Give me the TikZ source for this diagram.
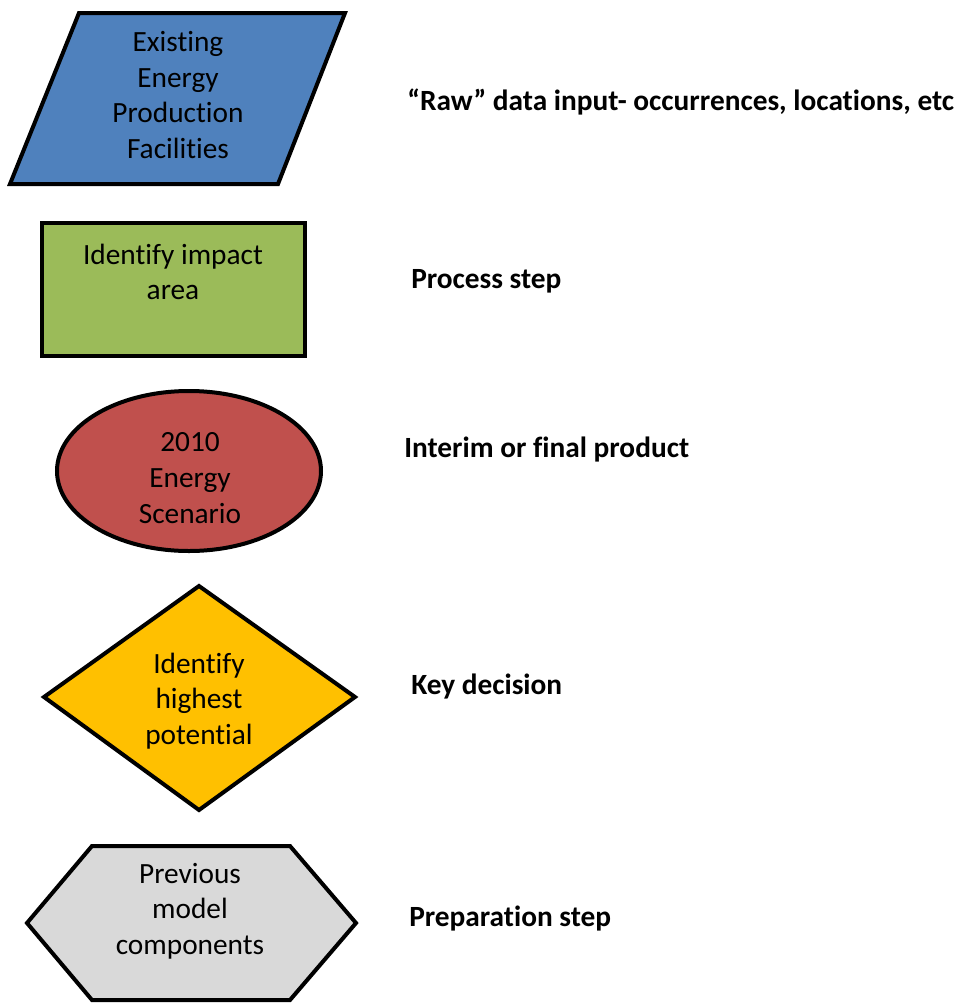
\documentclass[tikz,border=0pt]{standalone}
\usepackage{fontspec}
\setmainfont{Carlito}[Ligatures={TeX,NoCommon}]
\definecolor{inputblue}{HTML}{4F81BD}
\definecolor{processgreen}{HTML}{9BBB59}
\definecolor{productred}{HTML}{C0504D}
\definecolor{decisionyellow}{HTML}{FFC000}
\definecolor{prepgray}{HTML}{D9D9D9}
\tikzset{
    outline/.style={draw=black, line width=3pt, line join=miter},
    shapetext/.style={align=center, inner sep=0pt, font=\fontsize{22}{26.8}\selectfont},
    legendtext/.style={anchor=base west, inner sep=0pt, font=\fontsize{22}{26}\selectfont\bfseries},
}
\begin{document}
\begin{tikzpicture}[x=0.75pt, y=-0.75pt]
    \useasboundingbox (0,0) rectangle (957,1003);
    % symbols
    \filldraw[outline, fill=inputblue] (79,13) -- (345,13) -- (278,184) -- (10,184) -- cycle;
    \filldraw[outline, fill=processgreen] (42,223) rectangle (305,356);
    \filldraw[outline, fill=productred] (189,471) ellipse [x radius=132, y radius=80];
    \filldraw[outline, fill=decisionyellow] (199,586) -- (355,697) -- (199,810) -- (44,697) -- cycle;
    \filldraw[outline, fill=prepgray] (92,846) -- (290,846) -- (356,923) -- (290,1000) -- (92,1000) -- (27,923) -- cycle;
    % texts inside
    \node[shapetext] at(178,95) (input) {Existing\\Energy\\Production\\Facilities};
    \node[shapetext] at(173,272) (process) {Identify impact\\area};
    \node[shapetext] at(190,478) (product) {2010\\Energy\\Scenario};
    \node[shapetext] at(199,701) (decision) {Identify\\highest\\potential};
    \node[shapetext] at(190,911) (prep) {Previous\\model\\components};
    % legend
    \node[legendtext] at(407,110) (inputlabel) {“Raw” data input- occurrences, locations, etc};
    \node[legendtext] at(411,288) (processlabel) {Process step};
    \node[legendtext] at(404,457) (productlabel) {Interim or final product};
    \node[legendtext] at(411,694) (decisionlabel) {Key decision};
    \node[legendtext] at(409,926) (preplabel) {Preparation step};
\end{tikzpicture}
\end{document}
